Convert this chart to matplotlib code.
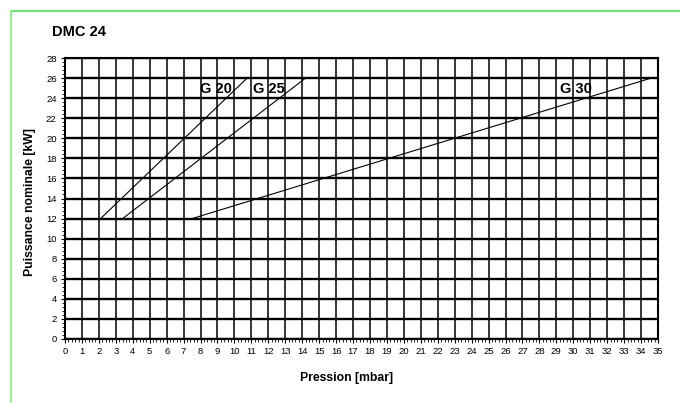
import matplotlib
matplotlib.use("Agg")
import matplotlib.pyplot as plt
from matplotlib.lines import Line2D
import numpy as np

plt.rcParams['font.family'] = ['Liberation Sans', 'DejaVu Sans']

# Data
series_names = ["G 20", "G 25", "G 30"]
g20_x = [2.1, 10.75]
g20_y = [12, 26]
g25_x = [3.4, 14.2]
g25_y = [12, 26]
g30_x = [7.5, 34.6]
g30_y = [12, 26]
label_pos_x = [8.9, 12.05, 30.15]
label_pos_y = [24.9, 24.9, 24.9]
x_ticks = list(range(0, 36))
y_ticks = list(range(0, 29, 2))

fig = plt.figure(figsize=(6.8, 4.03), dpi=100)
ax = fig.add_axes([65/680, 1-339/403, (658-65)/680, (339-58)/403])

ax.set_xlim(0, 35)
ax.set_ylim(0, 28)
ax.set_xticks(x_ticks)
ax.set_yticks(y_ticks)
ax.set_xticks(np.arange(0, 35.01, 0.2), minor=True)
ax.set_yticks(np.arange(0, 28.01, 0.4), minor=True)

for x in x_ticks:
    ax.axvline(x, color='black', lw=1.1, zorder=1)
for y in y_ticks:
    ax.axhline(y, color='black', lw=1.7, zorder=1)

for xs, ys in [(g20_x, g20_y), (g25_x, g25_y), (g30_x, g30_y)]:
    ax.plot(xs, ys, color='black', lw=0.8, zorder=3)

for name, lx, ly in zip(series_names, label_pos_x, label_pos_y):
    ax.text(lx, ly, name, fontsize=10.5, fontweight='bold', ha='center', va='center', zorder=4)

for s in ax.spines.values():
    s.set_linewidth(1.5)
ax.tick_params(axis='both', which='major', labelsize=6.8, length=3, width=0.8, pad=3)
ax.tick_params(axis='both', which='minor', length=2, width=0.6)

fig.text(347/680, 1-378/403, "Pression [mbar]", fontsize=8.8, fontweight='bold', ha='center', va='center')
fig.text(30/680, 1-202/403, "Puissance nominale [kW]", fontsize=8.8, fontweight='bold',
         ha='center', va='center', rotation=90)

fig.text(52/680, 1-32/403, "DMC 24", fontsize=10.5, fontweight='bold', ha='left', va='center')

fig.add_artist(Line2D([11/680, 1], [1-11/403, 1-11/403], color='#55e055', lw=1.2, transform=fig.transFigure))
fig.add_artist(Line2D([11/680, 11/680], [0, 1-11/403], color='#99ee99', lw=1.5, transform=fig.transFigure))

fig.savefig("out.png", dpi=100)
